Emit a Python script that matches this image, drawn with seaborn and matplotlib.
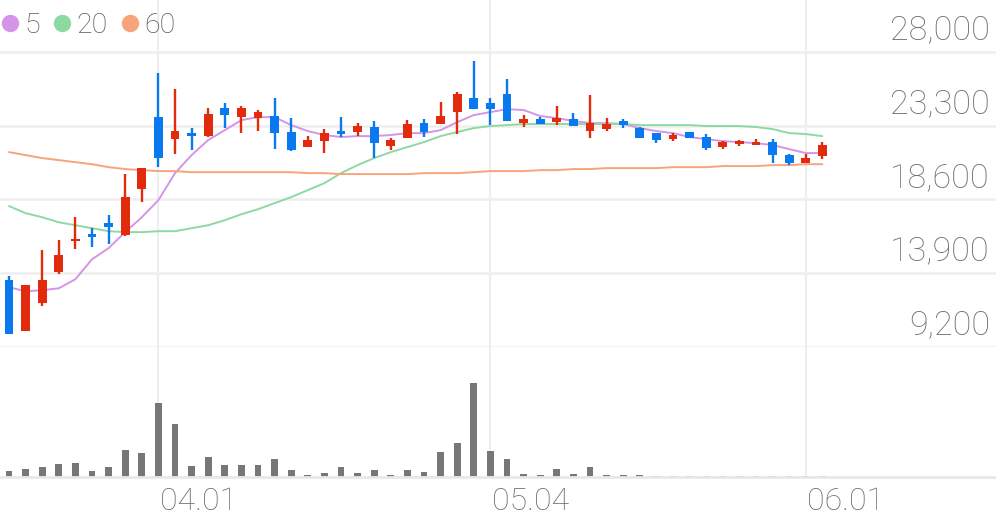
import numpy as np
import pandas as pd
import matplotlib.pyplot as plt
import seaborn as sns
from matplotlib.lines import Line2D

# daily candles (won)
opens = [13450, 10200, 11990, 13960, 15940, 16390, 17090, 16330, 19260, 23850,
         22450, 22830, 22640, 24430, 23850, 23790, 23920, 22900, 21940, 22320,
         22960, 22900, 23220, 22000, 22510, 23470, 23410, 24170, 25070, 24750,
         25320, 23470, 23730, 23530, 23730, 22960, 23090, 23600, 23150, 22830,
         22450, 22900, 22580, 21940, 22130, 22070, 22260, 21430, 20920, 21370]
highs = [13710, 13140, 15370, 16010, 17470, 16770, 17600, 20220, 20600, 26660,
         25640, 23150, 24430, 24750, 24560, 24300, 25070, 23790, 22640, 23090,
         23850, 23470, 23600, 22510, 23660, 23730, 24810, 25450, 27430, 25070,
         26280, 23980, 23850, 24560, 24110, 25260, 23790, 23730, 23220, 22830,
         22830, 22900, 22770, 22320, 22390, 22450, 22450, 21490, 21490, 22260]
lows = [10000, 10200, 11800, 13840, 15430, 15560, 15750, 16260, 18430, 20660,
        21490, 21750, 22600, 23150, 22830, 22960, 21810, 21700, 21940, 21560,
        22580, 22640, 21240, 21750, 22510, 22580, 23410, 22770, 24360, 23340,
        23600, 23220, 23410, 23340, 23280, 22510, 22960, 23150, 22510, 22190,
        22320, 22510, 21750, 21810, 22000, 22070, 20920, 20790, 20920, 21170]
closes = [10010, 13140, 13450, 15050, 16070, 16200, 16840, 18750, 20600, 21240,
          22960, 22640, 24040, 23980, 24430, 24170, 22830, 21750, 22390, 22830,
          22770, 23280, 22190, 22390, 23410, 22900, 23920, 25320, 24360, 24360,
          23600, 23730, 23410, 23790, 23280, 23470, 23410, 23340, 22510, 22390,
          22710, 22510, 21880, 22260, 22320, 22260, 21430, 20920, 21240, 22070]
volumes = [57000, 83000, 103000, 133000, 137000, 63000, 100000, 267000, 243000, 740000,
           533000, 107000, 203000, 120000, 123000, 123000, 183000, 67000, 23000, 37000,
           97000, 37000, 67000, 23000, 68000, 50000, 247000, 337000, 937000, 257000,
           183000, 30000, 23000, 83000, 30000, 103000, 23000, 20000, 17000, 13000,
           7000, 10000, 13000, 7000, 7000, 7000, 13000, 13000, 10000, 13000]

# moving averages as drawn on the chart
ma5 = [13010, 12750, 12820, 12940, 13520, 14790, 15500, 16520, 17470, 18560,
       20280, 21430, 22390, 23020, 23660, 23850, 23850, 23340, 22960, 22710,
       22580, 22640, 22640, 22710, 22830, 22830, 23020, 23530, 23980, 24170,
       24360, 24300, 23920, 23790, 23600, 23470, 23470, 23410, 23150, 22960,
       22830, 22580, 22450, 22320, 22260, 22190, 22070, 21810, 21560, 21560]
ma20 = [18180, 17730, 17470, 17150, 16960, 16770, 16580, 16520, 16520, 16580,
        16580, 16770, 16960, 17280, 17660, 17980, 18370, 18750, 19200, 19640,
        20280, 20790, 21240, 21620, 21940, 22260, 22640, 22900, 23150, 23280,
        23340, 23410, 23410, 23410, 23410, 23410, 23410, 23410, 23340, 23340,
        23340, 23340, 23280, 23280, 23280, 23220, 23090, 22830, 22770, 22640]
ma60 = [21620, 21430, 21240, 21110, 20980, 20850, 20660, 20540, 20470, 20410,
        20410, 20340, 20340, 20340, 20340, 20340, 20340, 20340, 20280, 20280,
        20220, 20220, 20220, 20220, 20220, 20280, 20280, 20280, 20340, 20410,
        20410, 20410, 20470, 20470, 20540, 20540, 20600, 20600, 20600, 20600,
        20660, 20660, 20660, 20730, 20730, 20730, 20790, 20790, 20850, 20850]

price_ticks = [9200, 13900, 18600, 23300, 28000]
date_pos = [9, 29, 48]
date_labels = ['04.01', '05.04', '06.01']
ma_names = ['5', '20', '60']
ma_colors = ['#d495e8', '#8ed9a2', '#f6a47c']

df = pd.DataFrame({'open': opens, 'high': highs, 'low': lows, 'close': closes,
                   'volume': volumes, 'ma5': ma5, 'ma20': ma20, 'ma60': ma60})
df['idx'] = np.arange(len(df))

sns.set_style('white')
plt.rcParams['font.family'] = ['Roboto', 'DejaVu Sans']

W, H = 996, 519
fig = plt.figure(figsize=(W / 100, H / 100), dpi=100)
ax = fig.add_axes([0, (H - 347) / H, 1, 347 / H])
axv = fig.add_axes([0, (H - 477) / H, 1, 130 / H])

red, blue = '#e22b0d', '#0a78ee'
grid_c = '#eeeeee'

# moving average lines
for col, c in zip(['ma5', 'ma20', 'ma60'], ma_colors):
    sns.lineplot(data=df, x='idx', y=col, ax=ax, color=c, lw=1.4, zorder=2)

# candles
up = df['close'] >= df['open']
colors = np.where(up, red, blue)
ax.vlines(df['idx'], df['low'], df['high'], colors=colors, lw=1.7, zorder=3)
body_lo = np.minimum(df['open'], df['close'])
body_h = np.maximum((df['close'] - df['open']).abs(), 110)
ax.bar(df['idx'], body_h, bottom=body_lo, width=0.54, color=colors, lw=0, zorder=4)

# volume
sns.barplot(data=df, x='idx', y='volume', ax=axv, native_scale=True, color='#777777',
            saturation=1, width=0.42, errorbar=None, linewidth=0)

xlim = (-9 / 16.6, (W - 9) / 16.6)
step = (28000 - 9200) / 295
for a in (ax, axv):
    a.set_xlim(*xlim)
    a.set_xticks(date_pos)
    a.grid(axis='x', color=grid_c, lw=1.5)
    a.tick_params(length=0, labelleft=False, labelbottom=False)
    a.set_xlabel('')
    a.set_ylabel('')
    for s in a.spines.values():
        s.set_visible(False)
    a.set_axisbelow(True)

ax.set_ylim(9200, 28000 + 52 * step)
ax.set_yticks(price_ticks)
ax.grid(axis='y', color=grid_c, lw=1.8)
axv.set_ylim(0, 1300000)
axv.set_yticks([])
axv.spines['bottom'].set_visible(True)
axv.spines['bottom'].set_color('#e8e8e8')
axv.spines['bottom'].set_linewidth(2)

label_c = '#6e6e6e'
for v in price_ticks:
    ax.annotate(f'{v:,}', xy=(0.994, v), xycoords=('axes fraction', 'data'),
                xytext=(0, 4), textcoords='offset points', ha='right', va='bottom',
                fontsize=24.5, color=label_c, fontweight='light', annotation_clip=False)

for p, lbl in zip(date_pos, date_labels):
    axv.annotate(lbl, xy=(p, 0), xycoords=('data', 'axes fraction'),
                 xytext=(1, -7), textcoords='offset points', ha='left', va='top',
                 fontsize=23, color=label_c, fontweight='light', annotation_clip=False)

handles = [Line2D([], [], marker='o', ls='', ms=11.5, color=c) for c in ma_colors]
fig.legend(handles, ma_names, loc='upper left', bbox_to_anchor=(-0.014, 0.9985), ncol=3,
           frameon=False, handletextpad=0.05, columnspacing=0.33,
           handlelength=0.9, borderaxespad=0, labelcolor='#5a5a5a',
           prop={'weight': 'light', 'size': 20.5})

fig.savefig('out.png', dpi=100)
